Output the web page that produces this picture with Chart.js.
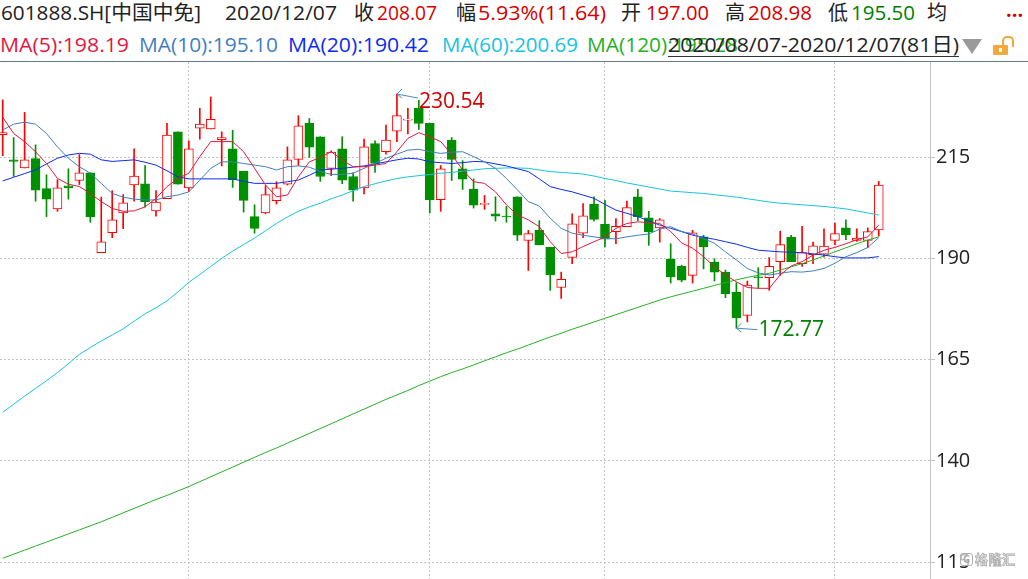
<!DOCTYPE html>
<html>
<head>
<meta charset="utf-8">
<script src="https://cdn.jsdelivr.net/npm/chart.js@4.4.1/dist/chart.umd.min.js"></script>
<style>
html, body { margin: 0; padding: 0; background: #fff; }
body { width: 1028px; height: 579px; position: relative; overflow: hidden; font-family: "Open Sans", "Noto Sans CJK SC", sans-serif; }
.t { position: absolute; white-space: nowrap; font-size: 20px; line-height: 24px; transform-origin: 0 50%; color: #222; }
.r1 { top: 1px; }
.r2 { top: 33px; }
.red { color: #d40000; }
.grn { color: #008000; }
#sep { position: absolute; left: 0; top: 61px; width: 1028px; height: 1px; background: #5f7e95; }
#uline { position: absolute; left: 668px; top: 56px; width: 291px; height: 1px; background: #333; }
#tri { position: absolute; left: 962px; top: 39px; width: 0; height: 0; border-left: 10px solid transparent; border-right: 10px solid transparent; border-top: 15px solid #9a9a9a; }
#lockBody { position: absolute; left: 993px; top: 45px; width: 15px; height: 10px; background: #f2a83a; border-radius: 1px; }
#lockKey { position: absolute; left: 999px; top: 48px; width: 3px; height: 4px; background: #fff; }
#lockArc { position: absolute; left: 1002px; top: 36px; width: 8px; height: 9px; border: 2px solid #f2a83a; border-bottom: none; border-radius: 5px 5px 0 0; }
#box { position: absolute; left: 0; top: 62px; width: 1028px; height: 517px; }
#wmIco { position: absolute; left: 960px; top: 553px; width: 11px; height: 11px; border: 1.5px solid #b0b0b0; border-radius: 3px; background: rgba(255,255,255,0.7); color: #a8a8a8; font: bold 10px/11px "Open Sans", sans-serif; text-align: center; }
#wm { position: absolute; left: 975px; top: 549px; font-size: 13px; line-height: 20px; letter-spacing: 0.5px; font-weight: bold; color: #f6f6f6; -webkit-text-stroke: 0.8px #aaaaaa; font-family: "Noto Sans CJK SC", sans-serif; }
</style>
</head>
<body>
<div class="t r1" data-w="200" style="left:1px">601888.SH[中国中免]</div>
<div class="t r1" data-w="112" style="left:225px">2020/12/07</div>
<div class="t r1" style="left:354px">收</div>
<div class="t r1 red" data-w="60" style="left:377px">208.07</div>
<div class="t r1" style="left:456px">幅</div>
<div class="t r1 red" data-w="128" style="left:478px">5.93%(11.64)</div>
<div class="t r1" style="left:621px">开</div>
<div class="t r1 red" data-w="63" style="left:646px">197.00</div>
<div class="t r1" style="left:725px">高</div>
<div class="t r1 red" data-w="64" style="left:748px">208.98</div>
<div class="t r1" style="left:828px">低</div>
<div class="t r1 grn" data-w="64" style="left:851px">195.50</div>
<div class="t r1" style="left:927px">均</div>
<div class="t r1 red" style="left:1006px;top:-2px;font-weight:bold">...</div>

<div class="t r2" data-w="129" style="left:0px;color:#e3173e">MA(5):198.19</div>
<div class="t r2" data-w="139" style="left:139px;color:#3f7fbf">MA(10):195.10</div>
<div class="t r2" data-w="141" style="left:288px;color:#0b2bf5">MA(20):190.42</div>
<div class="t r2" data-w="136" style="left:442px;color:#16c3e0">MA(60):200.69</div>
<div class="t r2" data-w="151" style="left:587px;color:#26b026">MA(120):195.28</div>
<div class="t r2" data-w="291" style="left:668px">2020/08/07-2020/12/07(81日)</div>
<div id="uline"></div>
<div id="tri"></div>
<div id="lockArc"></div>
<div id="lockBody"></div>
<div id="lockKey"></div>
<div id="sep"></div>

<div id="box"><canvas id="chartKline"></canvas></div>
<div id="wmIco">G</div>
<div id="wm">格隆汇</div>

<script>
var dates = ['08-07','08-10','08-11','08-12','08-13','08-14','08-17','08-18','08-19','08-20','08-21','08-24','08-25','08-26','08-27','08-28','08-31',
    '09-01','09-02','09-03','09-04','09-07','09-08','09-09','09-10','09-11','09-14','09-15','09-16','09-17','09-18','09-21','09-22','09-23','09-24','09-25','09-28','09-29','09-30',
    '10-09','10-12','10-13','10-14','10-15','10-16','10-19','10-20','10-21','10-22','10-23','10-26','10-27','10-28','10-29','10-30',
    '11-02','11-03','11-04','11-05','11-06','11-09','11-10','11-11','11-12','11-13','11-16','11-17','11-18','11-19','11-20','11-23','11-24','11-25','11-26','11-27','11-30',
    '12-01','12-02','12-03','12-04','12-07'];

var opens = [220.5,214.3,212.3,214.6,207.2,202.2,207.9,209.2,211.1,191.4,
    196.3,201.2,208.1,208.4,201.7,204.7,221.2,207.4,222.1,221.9,
    219.3,217.0,211.5,200.3,201.2,204.2,208.3,214.4,223.4,220.0,
    212.2,217.0,210.2,207.4,218.3,216.3,221.4,224.1,227.0,223.3,
    204.5,219.2,212.1,207.1,203.3,201.0,200.4,205.2,194.4,196.9,
    192.7,182.8,190.2,196.2,203.3,198.4,196.6,197.8,205.2,200.0,
    197.5,189.8,188.0,185.8,195.3,189.0,186.6,181.6,175.9,185.3,
    185.2,189.2,195.2,188.7,190.9,191.0,194.4,197.5,194.4,194.4,
    197.00];
var highs = [229.1,219.8,226.0,218.0,210.6,209.4,212.1,215.6,211.1,205.1,
    206.7,205.7,217.0,212.9,206.7,223.3,221.2,219.0,227.0,229.8,
    221.2,221.6,211.5,203.2,207.9,208.9,217.5,225.2,224.5,220.0,
    216.5,220.0,211.1,219.4,219.0,222.9,230.54,227.0,229.0,223.3,
    212.9,219.8,214.1,209.6,205.5,205.2,202.8,205.2,196.9,199.3,
    192.7,186.6,201.0,203.5,205.2,204.3,199.8,204.1,207.0,201.6,
    199.8,193.6,188.3,196.9,195.7,189.9,187.1,184.0,184.4,187.7,
    190.2,196.7,195.7,197.9,194.0,197.3,198.7,199.5,197.3,197.5,
    208.98];
var lows = [215.3,210.2,212.3,204.1,200.3,201.6,204.6,208.2,198.9,191.4,
    195.1,197.3,204.1,202.6,200.4,204.7,208.3,206.5,219.4,221.9,
    212.8,207.5,201.4,196.2,201.0,203.4,208.1,212.9,214.9,209.0,
    210.4,208.4,204.1,205.9,211.2,215.7,218.8,220.7,221.8,201.2,
    201.6,209.2,207.0,202.4,202.1,199.2,198.9,194.4,187.0,193.3,
    182.1,180.1,188.7,195.1,199.2,192.8,193.6,197.8,199.3,193.2,
    194.0,183.9,184.2,183.9,187.4,184.4,180.3,172.77,174.3,182.6,
    182.1,185.8,189.2,188.0,188.7,190.3,193.4,194.6,194.2,192.6,
    195.50];
var closes = [221.0,213.9,214.3,206.8,204.6,207.4,207.4,211.1,200.2,194.1,
    199.5,203.7,210.3,204.0,203.9,220.4,208.3,217.0,223.1,224.3,
    219.8,209.4,204.3,197.4,205.7,207.4,214.3,222.7,217.4,210.2,
    216.2,209.3,206.8,217.5,213.4,219.2,225.2,224.3,223.3,204.4,
    212.1,214.4,209.5,203.1,203.5,200.4,200.2,195.7,196.1,193.3,
    185.9,184.8,198.5,200.5,199.6,194.7,197.9,202.5,200.3,196.5,
    199.5,185.4,184.6,196.3,192.8,186.6,181.3,175.3,183.4,185.2,
    188.0,193.4,189.2,191.4,193.1,193.0,196.1,195.8,195.0,196.6,
    208.07];

var ma5 = [224.8,220.8,218.8,216.3,213.4,209.7,208.3,207.7,206.0,204.0,
    202.3,201.6,201.7,202.7,204.8,207.7,209.7,211.0,215.1,218.8,
    218.8,218.8,216.3,212.2,208.1,205.2,205.6,210.1,213.8,214.9,
    216.3,214.3,212.6,212.6,213.0,213.4,216.3,219.6,221.0,220.0,
    218.8,215.6,211.8,208.9,208.5,206.4,203.2,200.7,199.5,197.8,
    194.1,191.2,191.6,192.9,194.1,195.3,197.4,198.6,199.0,198.8,
    198.6,196.6,193.8,192.5,190.4,187.9,185.9,184.2,182.8,182.6,
    182.6,185.9,188.1,189.2,190.8,192.0,192.7,193.6,194.6,195.3,
    198.19];
var ma10 = [221.7,223.1,223.6,223.1,220.8,217.5,214.7,212.6,211.0,208.5,
    206.0,205.1,204.6,204.4,204.4,205.2,205.6,206.4,209.3,212.2,
    213.8,213.8,213.4,213.0,212.6,211.8,212.6,212.8,212.5,211.4,
    210.7,210.7,211.0,212.2,213.4,214.7,215.7,216.7,216.9,216.3,
    215.9,216.2,216.3,215.1,213.8,212.2,209.7,206.9,204.0,202.9,
    199.9,197.4,196.2,195.7,195.3,194.9,194.8,195.3,195.7,196.0,
    197.2,197.8,196.6,196.0,194.9,193.7,191.6,189.6,187.5,186.4,
    185.9,186.3,186.7,186.6,186.9,187.5,188.8,190.4,191.4,192.7,
    195.10];
var ma20 = [209.1,210.0,210.9,211.8,213.3,214.7,215.5,215.9,215.7,214.3,
    213.9,214.1,214.3,213.7,213.0,211.6,210.1,209.6,209.6,209.6,
    209.6,209.6,209.0,208.5,208.5,208.5,208.9,209.3,210.5,211.8,
    212.0,212.2,212.5,212.8,213.3,213.8,214.3,214.7,214.5,213.8,
    213.6,213.4,213.6,213.9,213.8,213.3,212.8,212.1,211.4,209.6,
    207.7,207.0,206.4,205.6,204.8,203.3,201.9,201.1,200.3,199.2,
    198.2,197.4,196.6,195.7,195.2,194.7,194.1,193.5,192.7,192.0,
    191.8,191.6,191.5,191.4,191.1,190.8,190.4,190.1,190.1,190.1,
    190.42];
var ma60 = [152.0,154.0,156.0,157.9,159.8,161.8,164.0,166.3,168.0,169.6,
    171.1,172.6,174.5,176.3,177.8,179.5,181.7,184.1,186.0,188.0,
    190.0,191.8,193.4,195.0,196.8,198.6,200.2,201.6,202.7,203.6,
    204.7,205.6,206.7,207.7,208.4,209.1,209.7,210.1,210.4,210.7,
    211.0,211.2,211.5,211.8,212.1,212.2,212.3,212.3,212.2,211.8,
    211.4,211.2,211.0,210.8,210.3,209.7,209.2,208.6,208.1,207.6,
    207.1,206.6,206.4,206.2,206.0,205.7,205.4,205.1,204.7,204.3,
    203.9,203.6,203.4,203.2,203.0,202.8,202.5,202.2,201.7,201.2,
    200.69];
var ma120 = [116.0,117.0,118.0,119.0,120.0,121.0,122.0,123.0,124.0,125.0,
    126.1,127.2,128.3,129.4,130.5,131.5,132.6,133.7,134.9,136.1,
    137.3,138.5,139.7,140.9,142.1,143.2,144.4,145.6,146.8,148.0,
    149.2,150.4,151.6,152.8,154.0,155.2,156.3,157.4,158.6,159.7,
    160.8,161.8,162.7,163.7,164.7,165.7,166.7,167.6,168.6,169.6,
    170.6,171.5,172.5,173.4,174.3,175.2,176.1,177.0,177.9,178.8,
    179.7,180.5,181.2,181.9,182.6,183.3,184.0,184.7,185.3,185.8,
    186.3,187.1,187.9,188.7,189.6,190.6,191.6,192.6,193.6,194.5,
    195.28];

var yTicks = [115, 140, 165, 190, 215];

var UP = '#ff0000', DOWN = '#008f00';
var isUp = closes.map(function (c, i) { return c >= opens[i]; });

// first trading day of each month gets a vertical grid line
var monthStarts = [];
dates.forEach(function (d, i) {
    if (i > 0 && d.slice(0, 2) !== dates[i - 1].slice(0, 2)) monthStarts.push(i);
});

function pts(arr) {
    return arr.map(function (v, i) { return { x: i, y: v }; });
}
function maLine(label, arr, color) {
    return { type: 'line', label: label, data: pts(arr), borderColor: color, borderWidth: 1,
             pointRadius: 0, tension: 0, order: 1 };
}

// arrows to the period high / low
var extremeMarks = {
    id: 'extremeMarks',
    afterDatasetsDraw: function (chart) {
        var ctx = chart.ctx, xs = chart.scales.x, ys = chart.scales.y;
        var hi = highs.indexOf(Math.max.apply(null, highs));
        var lo = lows.indexOf(Math.min.apply(null, lows));
        mark(hi, highs[hi], '#d40000', 4, 8);
        mark(lo, lows[lo], '#008000', 1.5, 2);

        function mark(i, v, color, lineDy, textDy) {
            var px = xs.getPixelForValue(i), py = ys.getPixelForValue(v);
            ctx.save();
            ctx.strokeStyle = '#4a8cc0';
            ctx.lineWidth = 1;
            ctx.beginPath();
            ctx.moveTo(px + 5, py - 5);
            ctx.lineTo(px, py);
            ctx.lineTo(px + 5, py + 4);
            ctx.moveTo(px, py);
            ctx.lineTo(px + 21, py + lineDy);
            ctx.stroke();
            ctx.fillStyle = color;
            ctx.font = '21px "Open Sans"';
            ctx.textBaseline = 'middle';
            ctx.fillText(v.toFixed(2), px + 22, py + textDy);
            ctx.restore();
        }
    }
};

new Chart(document.getElementById('chartKline'), {
    type: 'bar',
    data: {
        datasets: [
            maLine('MA5', ma5, '#e3173e'),
            maLine('MA10', ma10, '#3f7fbf'),
            maLine('MA20', ma20, '#0b2bf5'),
            maLine('MA60', ma60, '#16c3e0'),
            maLine('MA120', ma120, '#26b026'),
            {
                label: 'body',
                data: opens.map(function (o, i) { return { x: i, y: [o, closes[i]] }; }),
                backgroundColor: isUp.map(function (u) { return u ? '#ffffff' : DOWN; }),
                borderColor: isUp.map(function (u) { return u ? UP : DOWN; }),
                borderWidth: 1,
                borderSkipped: false,
                barThickness: 9,
                minBarLength: 1,
                grouped: false,
                order: 2
            },
            {
                label: 'wick',
                data: highs.map(function (h, i) { return { x: i, y: [lows[i], h] }; }),
                backgroundColor: isUp.map(function (u) { return u ? UP : DOWN; }),
                borderWidth: 0,
                barThickness: 1,
                grouped: false,
                order: 3
            }
        ]
    },
    options: {
        responsive: true,
        maintainAspectRatio: false,
        animation: false,
        layout: { padding: 0 },
        plugins: { legend: { display: false }, tooltip: { enabled: false } },
        scales: {
            x: {
                type: 'linear',
                min: -0.247,
                max: 84.68,
                offset: false,
                afterBuildTicks: function (axis) {
                    axis.ticks = monthStarts.map(function (v) { return { value: v }; });
                },
                ticks: { display: false },
                grid: { color: '#c4c4c4', drawTicks: false, offset: false },
                border: { display: false, dash: [2, 2] }
            },
            y: {
                position: 'right',
                min: 110.88,
                max: 238.44,
                afterBuildTicks: function (axis) {
                    axis.ticks = yTicks.map(function (v) { return { value: v }; });
                },
                afterFit: function (axis) {
                    axis.width = 98;
                    axis.paddingTop = 0;
                    axis.paddingBottom = 0;
                },
                ticks: { color: '#222', font: { family: 'Open Sans', size: 20 }, padding: 1 },
                grid: { color: '#c4c4c4', tickLength: 5, tickColor: '#c4c4c4', tickBorderDash: [] },
                border: { display: true, color: '#c4c4c4', dash: [2, 2] }
            }
        }
    },
    plugins: [extremeMarks]
});

// squeeze header texts to the widths they take in the terminal font
function fitHeader() {
    document.querySelectorAll('.t[data-w]').forEach(function (el) {
        el.style.transform = 'none';
        var w = el.getBoundingClientRect().width;
        if (w > 0) el.style.transform = 'scaleX(' + (el.dataset.w / w) + ')';
    });
}
fitHeader();
if (document.fonts && document.fonts.ready) document.fonts.ready.then(fitHeader);
</script>
</body>
</html>
